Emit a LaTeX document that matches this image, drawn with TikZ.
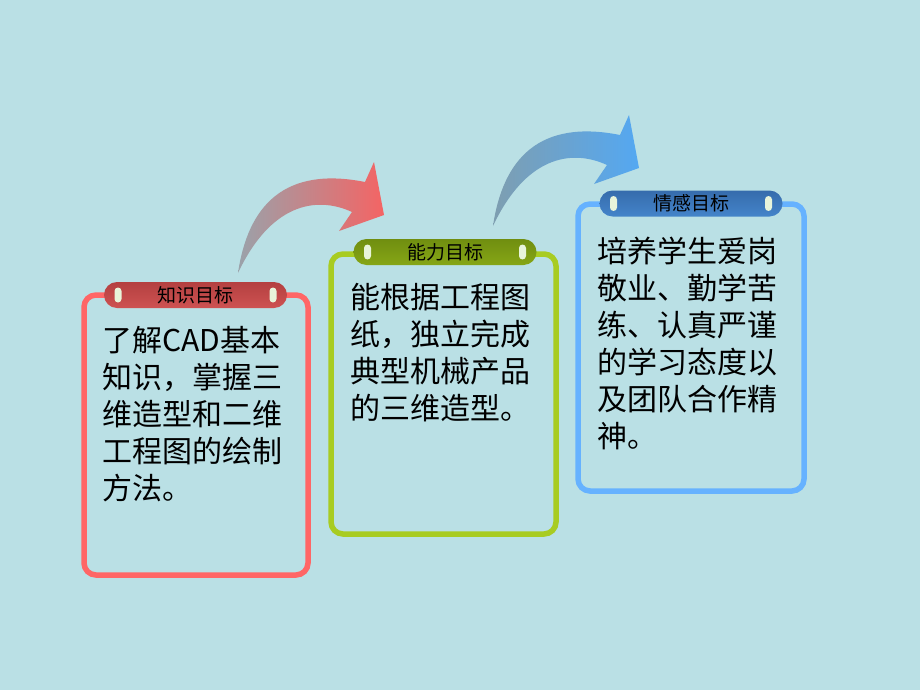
\documentclass[tikz,border=0pt]{standalone}
\usepackage{fontspec}
\setmainfont{Noto Sans CJK SC}
\usetikzlibrary{positioning}

\definecolor{bgcol}{RGB}{186,224,229}
\definecolor{redline}{RGB}{255,102,102}
\definecolor{greenline}{RGB}{168,204,34}
\definecolor{blueline}{RGB}{102,178,255}
\definecolor{redtop}{RGB}{180,64,64}
\definecolor{redmid}{RGB}{245,110,110}
\definecolor{redbot}{RGB}{206,82,82}
\definecolor{greentop}{RGB}{112,142,16}
\definecolor{greenmid}{RGB}{170,204,36}
\definecolor{greenbot}{RGB}{134,166,22}
\definecolor{bluetop}{RGB}{54,108,172}
\definecolor{bluemid}{RGB}{96,172,240}
\definecolor{bluebot}{RGB}{68,132,202}
\definecolor{knobcol}{RGB}{232,244,218}
\definecolor{grayred}{RGB}{154,162,170}
\definecolor{arrred}{RGB}{244,100,100}
\definecolor{grayblue}{RGB}{126,158,176}
\definecolor{arrblue}{RGB}{84,168,242}

\begin{document}
\begin{tikzpicture}
[x=1pt,y=-1pt,
box/.style={line width=5.5pt,rounded corners=12pt},
pill/.style={rounded corners=13pt,minimum width=183pt,minimum height=26pt,inner sep=0pt,font=\fontsize{19}{19}\selectfont},
knob/.style={fill=knobcol,rounded corners=3.5pt,minimum width=7pt,minimum height=15pt,inner sep=0pt},
body/.style={anchor=north west,inner sep=0pt,align=left,font=\fontsize{30}{37}\selectfont},]

%Curved arrow, shifted and coloured
\def\bendarrow#1#2#3{\shade[left color=#2,right color=#3,shift={#1}]
(238,273) .. controls (248,205) and (285,166) .. (365,182) -- (374,162) -- (384,215)
-- (339,231) -- (352,212) .. controls (315,195) and (270,205) .. (238,273) -- cycle;}

%Background
\fill[bgcol] (0,0) rectangle (920,690);
\useasboundingbox (0,0) rectangle (920,690);

%Arrows between the boxes
\bendarrow{(0,0)}{grayred}{arrred}
\bendarrow{(255,-47)}{grayblue}{arrblue}

%Drawing the three boxes
\draw[box,redline] (84,295) rectangle (308,575);
\draw[box,greenline] (331,254) rectangle (556,534);
\draw[box,blueline] (578,204) rectangle (804,491);

%Title pills
\node[pill,top color=redtop,middle color=redmid,bottom color=redbot] (zhishi) at (195.5,295) {知识目标};
\node[pill,top color=greentop,middle color=greenmid,bottom color=greenbot] (nengli) at (445,252) {能力目标};
\node[pill,top color=bluetop,middle color=bluemid,bottom color=bluebot] (qinggan) at (691,203.5) {情感目标};

%Knobs on the pills
\node[knob,right=10.5pt of zhishi.west] (zhishiL) {};
\node[knob,left=10.5pt of zhishi.east] (zhishiR) {};
\node[knob,right=10.5pt of nengli.west] (nengliL) {};
\node[knob,left=10.5pt of nengli.east] (nengliR) {};
\node[knob,right=10.5pt of qinggan.west] (qingganL) {};
\node[knob,left=10.5pt of qinggan.east] (qingganR) {};

%Box texts
\node[body] (zhishitext) at (102,326) {了解CAD基本\\知识，掌握三\\维造型和二维\\工程图的绘制\\方法。};
\node[body] (nenglitext) at (350,283) {能根据工程图\\纸，独立完成\\典型机械产品\\的三维造型。};
\node[body] (qinggantext) at (597,237) {培养学生爱岗\\敬业、勤学苦\\练、认真严谨\\的学习态度以\\及团队合作精\\神。};

\end{tikzpicture}
\end{document}
